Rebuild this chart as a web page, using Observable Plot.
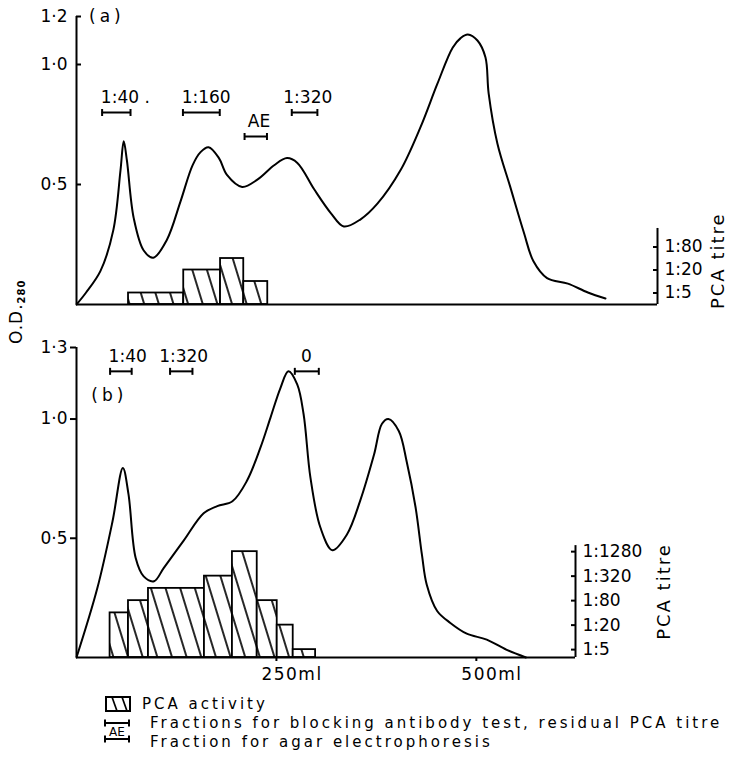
<!DOCTYPE html>
<html>
<head>
<meta charset="utf-8">
<script src="https://cdn.jsdelivr.net/npm/d3@7"></script>
<script src="https://cdn.jsdelivr.net/npm/@observablehq/plot@0.6"></script>
<style>
  html, body { margin: 0; padding: 0; background: #fff; }
  #wrap { position: relative; width: 730px; height: 775px; overflow: hidden; font-family: "DejaVu Sans", sans-serif; color: #000; }
  .abs { position: absolute; left: 0; }
</style>
</head>
<body>
<div id="wrap"></div>
<script>
// ---------- Panel (a) ----------
const aVol = [0, 12, 30, 46, 55, 59, 63, 71.5, 84, 96, 113, 130, 145, 155, 165, 178, 188, 207, 226, 247, 263, 276, 297, 318, 334, 355, 376, 405, 430, 451, 470, 480, 489, 501, 511, 515, 526, 542, 559, 571, 588, 614, 639, 661];
const aOD  = [0, 0.05, 0.14, 0.31, 0.56, 0.68, 0.60, 0.36, 0.225, 0.195, 0.27, 0.43, 0.58, 0.635, 0.655, 0.61, 0.54, 0.49, 0.52, 0.58, 0.61, 0.59, 0.48, 0.38, 0.325, 0.355, 0.42, 0.56, 0.74, 0.92, 1.07, 1.11, 1.125, 1.10, 1.03, 0.88, 0.67, 0.49, 0.30, 0.18, 0.11, 0.087, 0.05, 0.025];
const aBarX1 = [65, 134, 180, 209];
const aBarX2 = [134, 180, 209, 239];
const aBarTitre = [5, 20, 40, 10];
const aFracX1 = [32, 133, 210, 269];
const aFracX2 = [67.5, 179, 238, 301];
const aFracOD = [0.80, 0.80, 0.70, 0.80];
const aFracLabel = ["1:40 .", "1:160", "AE", "1:320"];
const aFracLabelX = [61, 162, 228, 289];
const aODTicks = [0.5, 1.0, 1.2];
const aTitreTicks = [5, 20, 80];
const aXMax = 726;

// ---------- Panel (b) ----------
const bVol = [0, 26, 45, 58, 65, 74, 84, 97, 109, 134, 159, 176, 195, 213, 230, 242.5, 255, 265, 276, 284, 292.5, 305, 320, 338, 355, 372, 382, 390, 403, 413, 424, 432, 438, 451, 467.5, 488, 513, 538, 562];
const bOD  = [0, 0.29, 0.57, 0.795, 0.685, 0.417, 0.34, 0.32, 0.375, 0.49, 0.605, 0.635, 0.655, 0.74, 0.88, 1.005, 1.13, 1.20, 1.145, 1.02, 0.755, 0.545, 0.45, 0.515, 0.66, 0.85, 0.98, 1.0, 0.95, 0.82, 0.63, 0.43, 0.305, 0.195, 0.145, 0.10, 0.075, 0.032, 0];
const bBarX1 = [42, 65, 90, 160, 195, 226, 251, 271];
const bBarX2 = [65, 90, 160, 195, 226, 251, 271, 299];
const bBarTitre = [40, 80, 160, 320, 1280, 80, 20, 5];
const bFracX1 = [42, 117, 273];
const bFracX2 = [69, 145, 303];
const bFracOD = [1.2, 1.2, 1.2];
const bFracLabel = ["1:40", "1:320", "0"];
const bFracLabelX = [64, 134, 287.5];
const bODTicks = [0.5, 1.0, 1.3];
const bTitreTicks = [5, 20, 80, 320, 1280];
const bXTicks = [250, 500];
const bXMax = 624;

// titre (log) -> O.D. units, for the secondary (right) axis
const aT = d3.scaleLog().base(2).domain([2.5, 80]).range([0, 0.2395]);
const bT = d3.scaleLog().base(2).domain([3.2, 1280]).range([0, 0.4439]);

const odFmt = d => d.toFixed(1).replace(".", "\u00B7");
const vbar = { draw(ctx, size) { const r = Math.sqrt(size / Math.PI); ctx.moveTo(0, -r); ctx.lineTo(0, r); } };
const FONT = "DejaVu Sans, sans-serif";

function zip(xs, f) { return xs.map((_, i) => f(i)); }

function addHatch(svg, id) {
  const ns = "http://www.w3.org/2000/svg";
  const defs = document.createElementNS(ns, "defs");
  const pat = document.createElementNS(ns, "pattern");
  pat.setAttribute("id", id);
  pat.setAttribute("patternUnits", "userSpaceOnUse");
  pat.setAttribute("width", "14");
  pat.setAttribute("height", "14");
  pat.setAttribute("patternTransform", "rotate(-17)");
  const bg = document.createElementNS(ns, "rect");
  bg.setAttribute("width", "14"); bg.setAttribute("height", "14"); bg.setAttribute("fill", "white");
  const ln = document.createElementNS(ns, "line");
  ln.setAttribute("x1", "7"); ln.setAttribute("x2", "7");
  ln.setAttribute("y1", "-2"); ln.setAttribute("y2", "16");
  ln.setAttribute("stroke", "black"); ln.setAttribute("stroke-width", "1.7");
  pat.appendChild(bg); pat.appendChild(ln);
  defs.appendChild(pat);
  svg.insertBefore(defs, svg.firstChild);
}

function panel(cfg) {
  const curve = zip(cfg.vol, i => ({ v: cfg.vol[i], od: cfg.od[i] }));
  const bars = zip(cfg.bx1, i => ({ x1: cfg.bx1[i], x2: cfg.bx2[i], t: cfg.bt[i] }));
  const frac = zip(cfg.fx1, i => ({ x1: cfg.fx1[i], x2: cfg.fx2[i], od: cfg.fod[i], label: cfg.flab[i], lx: cfg.flx[i] }));
  const caps = frac.flatMap(d => [{ x: d.x1, od: d.od }, { x: d.x2, od: d.od }]);
  const T = cfg.T;
  const marks = [
    Plot.rect(bars, { x1: "x1", x2: "x2", y1: 0, y2: d => T(d.t), fill: `url(#${cfg.hatchId})`, stroke: "black", strokeWidth: 1.8 }),
    Plot.ruleX([0], { y1: 0, y2: cfg.yMax, strokeWidth: 2 }),
    Plot.ruleY([0], { x1: 0, x2: cfg.xMax, strokeWidth: 2 }),
    Plot.ruleX([cfg.xMax], { y1: 0, y2: T(cfg.titreTop), strokeWidth: 2 }),
    Plot.axisY(cfg.odTicks, { anchor: "left", tickSize: cfg.leftTickSize, tickPadding: cfg.leftTickPad, tickFormat: odFmt, strokeWidth: 2, label: null, fontSize: 17 }),
    Plot.axisY(cfg.titreTicks.map(T), { anchor: "right", tickSize: -5, tickPadding: 12, tickFormat: d => "1:" + Math.round(T.invert(d)), strokeWidth: 2, label: null, fontSize: 17 }),
    Plot.line(curve, { x: "v", y: "od", curve: "catmull-rom", strokeWidth: 2, stroke: "black" }),
    Plot.ruleY(frac, { x1: "x1", x2: "x2", y: "od", strokeWidth: 2 }),
    Plot.dot(caps, { x: "x", y: "od", symbol: vbar, r: 3.5, stroke: "black", fill: "none", strokeWidth: 2 }),
    Plot.text(frac, { x: "lx", y: "od", text: "label", dy: -15, fontSize: 17 }),
    Plot.text([cfg.tag], { x: cfg.tagX, y: cfg.tagY, text: d => d, fontSize: 17 }),
    Plot.text(["PCA titre"], { x: cfg.xMax, y: T(cfg.titreLabelAt), text: d => d, rotate: -90, dx: cfg.titreLabelDx, fontSize: 18 })
  ];
  if (cfg.xTicks) {
    marks.push(Plot.axisX(cfg.xTicks, { tickSize: 4, tickFormat: () => "", strokeWidth: 2, label: null }));
    marks.push(Plot.text(cfg.xTicks, { x: d => d, y: 0, text: d => d + "ml", dy: 17, dx: -15, textAnchor: "start", fontSize: 17 }));
  }
  const svg = Plot.plot({
    width: 730, height: cfg.height,
    marginLeft: 76, marginRight: cfg.marginRight, marginTop: cfg.marginTop, marginBottom: cfg.marginBottom,
    x: { domain: [0, cfg.xMax], axis: cfg.xTicks ? undefined : null },
    y: { domain: [0, cfg.yMax] },
    style: { fontFamily: FONT, fontSize: "16px", color: "black", background: "transparent", overflow: "visible" },
    marks
  });
  addHatch(svg, cfg.hatchId);
  const sel = d3.select(svg).selectAll("text").attr("fill", "black");
  sel.filter(function () { return this.textContent === cfg.tag; }).attr("letter-spacing", "4");
  sel.filter(function () { return this.textContent === "PCA titre"; }).attr("letter-spacing", "2");
  sel.filter(function () { return /ml$/.test(this.textContent); }).attr("letter-spacing", "1.5");
  return svg;
}

const wrap = document.getElementById("wrap");

const svgA = panel({
  vol: aVol, od: aOD, bx1: aBarX1, bx2: aBarX2, bt: aBarTitre,
  fx1: aFracX1, fx2: aFracX2, fod: aFracOD, flab: aFracLabel, flx: aFracLabelX,
  T: aT, titreTop: 245, titreTicks: aTitreTicks, titreLabelAt: 35, titreLabelDx: 61,
  odTicks: aODTicks, yMax: 1.2, xMax: aXMax, hatchId: "hatchA",
  leftTickSize: -5, leftTickPad: 14,
  tag: "(a)", tagX: 38, tagY: 1.2,
  height: 310, marginTop: 16, marginBottom: 6, marginRight: 73
});
svgA.classList.add("abs"); svgA.style.top = "0px";
wrap.appendChild(svgA);

const svgB = panel({
  vol: bVol, od: bOD, bx1: bBarX1, bx2: bBarX2, bt: bBarTitre,
  fx1: bFracX1, fx2: bFracX2, fod: bFracOD, flab: bFracLabel, flx: bFracLabelX,
  T: bT, titreTop: 1800, titreTicks: bTitreTicks, titreLabelAt: 134, titreLabelDx: 89,
  odTicks: bODTicks, yMax: 1.3, xMax: bXMax, hatchId: "hatchB",
  leftTickSize: 6, leftTickPad: 3,
  tag: "(b)", tagX: 41, tagY: 1.1, xTicks: bXTicks,
  height: 380, marginTop: 37, marginBottom: 33, marginRight: 155
});
svgB.classList.add("abs"); svgB.style.top = "310px";
wrap.appendChild(svgB);

// y-axis title shared by both panels
const ns = "http://www.w3.org/2000/svg";
const yLab = document.createElementNS(ns, "svg");
yLab.setAttribute("width", "40"); yLab.setAttribute("height", "120");
yLab.classList.add("abs"); yLab.style.top = "250px";
yLab.innerHTML = `<text transform="translate(22,94) rotate(-90)" font-family="${FONT}" font-size="17" letter-spacing="1" fill="black">O.D.<tspan font-size="10" font-weight="bold" dy="3">280</tspan></text>`;
wrap.appendChild(yLab);

// legend
const leg = document.createElementNS(ns, "svg");
leg.setAttribute("width", "730"); leg.setAttribute("height", "85");
leg.classList.add("abs"); leg.style.top = "690px";
leg.innerHTML = `
  <g stroke="black" fill="none" stroke-width="2">
    <rect x="106" y="7" width="24" height="14"/>
    <line x1="112" y1="7" x2="117" y2="21" stroke-width="1.7"/>
    <line x1="122" y1="7" x2="127" y2="21" stroke-width="1.7"/>
    <line x1="104" y1="33" x2="130" y2="33"/>
    <line x1="105" y1="29.5" x2="105" y2="36.5"/>
    <line x1="129" y1="29.5" x2="129" y2="36.5"/>
    <line x1="104" y1="49" x2="130" y2="49"/>
    <line x1="105" y1="45.5" x2="105" y2="52.5"/>
    <line x1="129" y1="45.5" x2="129" y2="52.5"/>
  </g>
  <text x="117" y="46" text-anchor="middle" font-family="${FONT}" font-size="12" fill="black">AE</text>
  <g font-family="${FONT}" font-size="15" fill="black" letter-spacing="3">
    <text x="142" y="19">PCA activity</text>
    <text x="150" y="38">Fractions for blocking antibody test, residual PCA titre</text>
    <text x="150" y="57">Fraction for agar electrophoresis</text>
  </g>`;
wrap.appendChild(leg);
</script>
</body>
</html>
